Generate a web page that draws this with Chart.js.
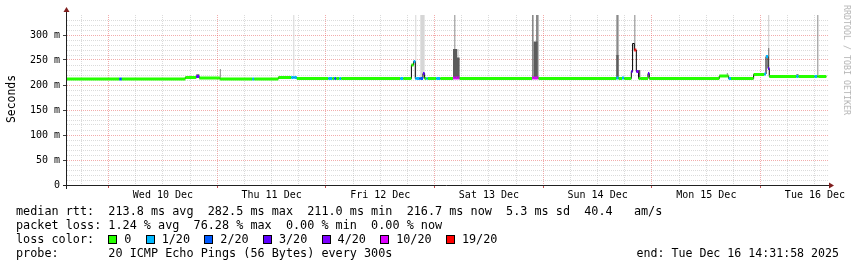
<!DOCTYPE html>
<html>
<head>
<meta charset="utf-8">
<script src="https://cdn.jsdelivr.net/npm/chart.js@4.4.1/dist/chart.umd.min.js"></script>
<style>
html,body{margin:0;padding:0;background:#fff;}
#wrap{position:relative;width:857px;height:267px;overflow:hidden;font-family:"DejaVu Sans Mono",monospace;color:#000;}
#c{position:absolute;left:0;top:0;}
.row{position:absolute;left:16px;font-size:11.8px;line-height:14px;white-space:pre;}
.box{display:inline-block;width:9px;height:9px;border:1px solid #000;box-sizing:border-box;margin-right:7px;vertical-align:-1px;}
#ylab{position:absolute;left:11px;top:99px;font-size:11.4px;transform:translate(-50%,-50%) rotate(-90deg);white-space:pre;}
#mark{position:absolute;left:847px;top:60px;font-size:8.3px;color:#b4b4b4;transform:translate(-50%,-50%) rotate(90deg);white-space:pre;}
#end{position:absolute;right:18px;font-size:11.6px;line-height:14px;white-space:pre;}
</style>
</head>
<body>
<div id="wrap">
  <canvas id="c" width="857" height="267"></canvas>
  <div id="ylab">Seconds</div>
  <div id="mark">RRDTOOL / TOBI OETIKER</div>
  <div class="row" style="top:204px">median rtt:  213.8 ms avg  282.5 ms max  211.0 ms min  216.7 ms now  5.3 ms sd  40.4   am/s</div>
  <div class="row" style="top:218px">packet loss: 1.24 % avg  76.28 % max  0.00 % min  0.00 % now</div>
  <div class="row" id="lossrow" style="top:232px"></div>
  <div class="row" style="top:246px">probe:       20 ICMP Echo Pings (56 Bytes) every 300s</div>
  <div id="end" style="top:246px">end: Tue Dec 16 14:31:58 2025</div>
</div>
<script>
// x values are hours counted from Wed 10 Dec 00:00
const xMin=-9.19, xMax=159.1;
const dayLabels=['Wed 10 Dec','Thu 11 Dec','Fri 12 Dec','Sat 13 Dec','Sun 14 Dec','Mon 15 Dec','Tue 16 Dec'];
const noonHours=[12,36,60,84,108,132,156];
const yLabelValues=[0,50,100,150,200,250,300];
const yLabels=['0','50 m','100 m','150 m','200 m','250 m','300 m'];

const lossSteps=[0,1,2,3,4,10,19];
const lossLabels=['0','1/20','2/20','3/20','4/20','10/20','19/20'];
const lossColors=['#26ff00','#00b8ff','#0059ff','#5e00ff','#7e00ff','#dd00ff','#ff0000'];

// start hour of each step, median rtt (ms), lost pings out of 20
const hours=[-9.19,2.36,2.92,16.94,19.37,20.03,24.56,24.78,31.74,32.18,
  37.48,40.35,40.79,41.01,41.56,48.52,49.40,49.85,50.29,50.95,
  51.39,64.42,65.08,66.87,67.36,67.73,67.95,68.62,68.84,69.43,
  69.79,70.18,70.49,72.37,73.26,76.06,76.35,76.57,76.94,77.08,
  77.23,77.52,93.51,93.86,94.39,94.74,94.96,112.13,112.63,113.38,
  113.89,115.44,115.72,116.10,116.33,116.55,117.05,117.42,119.12,119.41,
  134.87,136.53,136.75,136.93,137.46,142.45,144.81,145.19,145.63,145.91,
  151.88,152.38,155.92,156.45,156.52,156.74];
const endHour=158.51;
const median=[212,212,212,215,217,214,212,212,212,212,
  215,215,215,215,213,213,213,213,213,213,
  213,213,213,240,247,213,213,213,213,223,
  213,213,213,213,213,214,214,214,214,214,
  214,213,214,214,214,214,213,214,213,214,
  213,227,283,270,270,227,213,213,223,213,
  218,218,218,213,213,221,222,257,233,217,
  217,217,217,217,217,217];
const loss=[0,2,0,0,3,0,0,0,1,0,
  0,1,1,1,0,1,0,2,0,1,
  0,1,0,0,1,1,1,2,2,3,
  0,1,0,1,0,10,10,10,10,10,
  10,0,10,10,10,10,0,1,0,1,
  0,3,null,19,19,4,0,0,3,0,
  0,0,0,1,0,0,1,1,3,0,
  1,0,1,0,0,0];
// smoke tops (ms), null where no smoke of that shade
const smokeLight=[null,null,null,null,null,null,null,null,null,null,
  null,null,340,null,null,null,null,null,null,null,
  null,null,null,null,null,340,null,null,340,340,
  null,null,null,null,null,null,null,null,null,null,
  null,null,null,null,null,null,null,null,null,null,
  null,null,null,null,null,null,null,null,null,null,
  null,null,null,null,null,null,null,null,340,null,
  null,null,null,null,null,null];
const smokeMid=[null,null,null,null,222,null,232,null,null,null,
  null,null,null,null,null,null,null,null,null,null,
  null,null,null,null,null,null,null,null,null,null,
  null,null,null,null,null,null,340,null,null,272,
  null,null,340,null,340,340,null,340,null,null,
  null,null,null,340,null,null,null,null,null,null,
  null,224,null,null,null,null,null,null,274,null,
  222,null,null,null,340,null];
const smokeDark=[null,null,null,null,null,null,null,null,null,null,
  null,null,null,null,null,null,null,null,null,null,
  null,null,null,null,null,null,null,null,null,null,
  null,null,null,null,null,272,272,272,255,255,
  255,null,null,287,287,null,null,260,null,null,
  null,null,null,null,null,230,230,null,null,null,
  null,null,null,null,null,null,null,null,null,null,
  null,null,null,null,null,null];

function lossColor(l){
  let c=lossColors[0];
  lossSteps.forEach(function(s,i){ if(l>=s) c=lossColors[i]; });
  return c;
}

// legend row with the colour boxes
var row='loss color:  ';
lossLabels.forEach(function(lab,i){
  row+='<span class="box" style="background:'+lossColors[i]+'"></span>'+lab+'  ';
});
document.getElementById('lossrow').innerHTML=row;

function stepLine(vals){
  var pts=hours.map(function(h,i){ return {x:h,y:(vals[i]==null?median[i]:vals[i])}; });
  pts.push({x:endHour,y:pts[pts.length-1].y});
  return pts;
}
var pieces=[];
hours.forEach(function(h,i){
  if(loss[i]==null) return;
  var next=(i+1<hours.length)?hours[i+1]:endHour;
  pieces.push({x:h,y:median[i],l:loss[i]});
  pieces.push({x:next,y:median[i],l:loss[i]});
  pieces.push({x:next,y:null});
});

var gridHours=[];
for(var g=-6;g<=xMax;g+=6) gridHours.push(g);
var yTicks=[];
for(var v=0;v<=330;v+=10) yTicks.push(v);

const minorGrid='rgba(160,160,160,0.38)';
const majorGrid='rgba(230,90,90,0.5)';

const rrdAxes={
  id:'rrdAxes',
  afterDraw:function(ch){
    var c=ch.ctx, a=ch.chartArea;
    var ax=a.left-0.5, ay=a.bottom+0.5;
    c.save();
    c.strokeStyle='#202020';
    c.lineWidth=1;
    c.beginPath();
    c.moveTo(ax,a.top-5); c.lineTo(ax,a.bottom+4);
    c.moveTo(a.left-4,ay); c.lineTo(a.right+1,ay);
    c.stroke();
    c.fillStyle='#7f1e1e';
    c.beginPath();
    c.moveTo(ax-3,a.top-3); c.lineTo(ax+3,a.top-3); c.lineTo(ax,a.top-8); c.closePath(); c.fill();
    c.beginPath();
    c.moveTo(a.right,ay-3); c.lineTo(a.right,ay+3); c.lineTo(a.right+5,ay); c.closePath(); c.fill();
    c.restore();
  }
};

var ctx=document.getElementById('c').getContext('2d');
var myChart=new Chart(ctx,{
  type:'line',
  data:{
    datasets:[
      {data:pieces,borderWidth:3,borderCapStyle:'butt',spanGaps:false,
        segment:{borderColor:function(s){ return lossColor(s.p0.raw.l); }}},
      {data:stepLine(median),stepped:true,borderWidth:1,borderColor:'#000'},
      {data:stepLine(smokeDark),stepped:true,borderWidth:0,fill:1,backgroundColor:'#5c5c5c'},
      {data:stepLine(smokeMid),stepped:true,borderWidth:0,fill:1,backgroundColor:'#8a8a8a'},
      {data:stepLine(smokeLight),stepped:true,borderWidth:0,fill:1,backgroundColor:'#d6d6d6'}
    ]
  },
  options:{
    responsive:false,
    animation:false,
    layout:{padding:{left:0,right:28,top:15,bottom:0}},
    elements:{point:{radius:0},line:{tension:0}},
    plugins:{legend:{display:false},tooltip:{enabled:false}},
    scales:{
      x:{
        type:'linear',min:xMin,max:xMax,
        afterBuildTicks:function(s){ s.ticks=gridHours.map(function(h){ return {value:h}; }); },
        afterFit:function(s){ s.height=82; },
        border:{display:false,dash:[1,1]},
        grid:{
          lineWidth:1,tickLength:3,
          color:function(c){ return c.tick.value%24===0?majorGrid:minorGrid; },
          tickColor:function(c){ return c.tick.value%24===0?'#c05050':'rgba(0,0,0,0)'; }
        },
        ticks:{
          autoSkip:false,maxRotation:0,padding:1,color:'#000',
          font:{family:'DejaVu Sans Mono',size:10},
          callback:function(val){ var i=noonHours.indexOf(val); return i>=0?dayLabels[i]:''; }
        }
      },
      y:{
        min:0,max:340,
        afterBuildTicks:function(s){ s.ticks=yTicks.map(function(t){ return {value:t}; }); },
        afterFit:function(s){ s.width=67; },
        border:{display:false,dash:[1,1]},
        grid:{
          lineWidth:1,tickLength:4,
          color:function(c){ return c.tick.value%50===0?majorGrid:minorGrid; },
          tickColor:function(c){ return c.tick.value%50===0?'#404040':'rgba(0,0,0,0)'; }
        },
        ticks:{
          autoSkip:false,padding:3,color:'#000',
          font:{family:'DejaVu Sans Mono',size:10},
          callback:function(val){ var i=yLabelValues.indexOf(val); return i>=0?yLabels[i]:''; }
        }
      }
    }
  },
  plugins:[rrdAxes]
});
</script>
</body>
</html>
